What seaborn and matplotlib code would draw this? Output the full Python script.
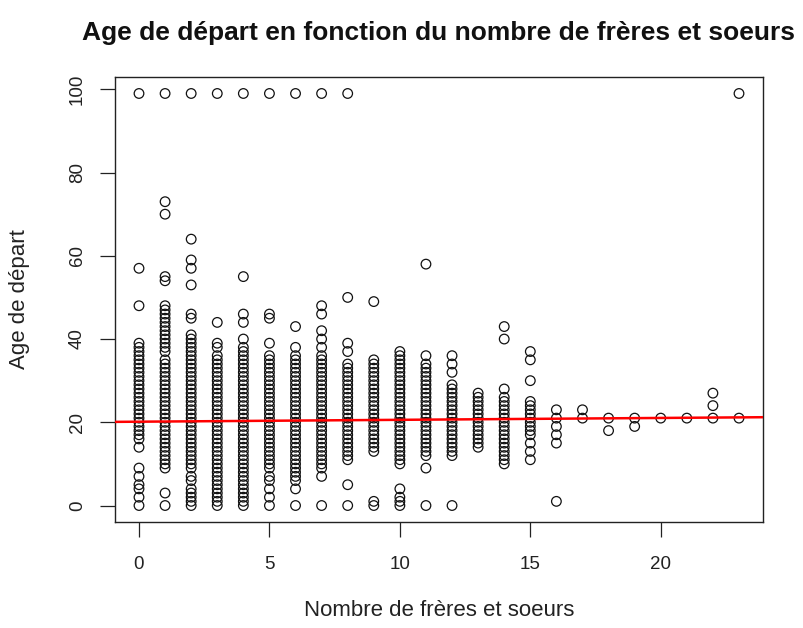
import matplotlib
matplotlib.use("Agg")
import matplotlib.pyplot as plt
import numpy as np
import pandas as pd
import seaborn as sns

# Age at departure observed for each number of brothers and sisters
age_0 = [0, 2, 4, 5, 7, 9, 14, 16, 17, 18, 19, 20, 21, 22, 23, 24, 25, 26, 27,
         28, 29, 30, 31, 32, 33, 34, 35, 36, 37, 38, 39, 48, 57, 99]
age_1 = [0, 3, 9, 10, 11, 12, 13, 14, 15, 16, 17, 18, 19, 20, 21, 22, 23, 24,
         25, 26, 27, 28, 29, 30, 31, 32, 33, 34, 35, 37, 38, 39, 40, 41, 42, 43,
         44, 45, 46, 47, 48, 54, 55, 70, 73, 99]
age_2 = [0, 1, 2, 3, 4, 6, 7, 9, 10, 11, 12, 13, 14, 15, 16, 17, 18, 19, 20, 21,
         22, 23, 24, 25, 26, 27, 28, 29, 30, 31, 32, 33, 34, 35, 36, 37, 38, 39,
         40, 41, 45, 46, 53, 57, 59, 64, 99]
age_3 = [0, 1, 2, 3, 4, 5, 6, 7, 8, 9, 10, 11, 12, 13, 14, 15, 16, 17, 18, 19,
         20, 21, 22, 23, 24, 25, 26, 27, 28, 29, 30, 31, 32, 33, 34, 35, 36, 38,
         39, 44, 99]
age_4 = [0, 1, 2, 3, 4, 5, 6, 7, 8, 9, 10, 11, 12, 13, 14, 15, 16, 17, 18, 19,
         20, 21, 22, 23, 24, 25, 26, 27, 28, 29, 30, 31, 32, 33, 34, 35, 36, 37,
         38, 40, 44, 46, 55, 99]
age_5 = [0, 2, 4, 6, 7, 9, 10, 11, 12, 13, 14, 15, 16, 17, 18, 19, 20, 21, 22,
         23, 24, 25, 26, 27, 28, 29, 30, 31, 32, 33, 34, 35, 36, 39, 45, 46, 99]
age_6 = [0, 4, 6, 7, 8, 9, 10, 11, 12, 13, 14, 15, 16, 17, 18, 19, 20, 21, 22,
         23, 24, 25, 26, 27, 28, 29, 30, 31, 32, 33, 34, 35, 36, 38, 43, 99]
age_7 = [0, 7, 9, 10, 11, 12, 13, 14, 15, 16, 17, 18, 19, 20, 21, 22, 23, 24,
         25, 26, 27, 28, 29, 30, 31, 32, 33, 34, 35, 36, 38, 40, 42, 46, 48, 99]
age_8 = [0, 5, 11, 12, 13, 14, 15, 16, 17, 18, 19, 20, 21, 22, 23, 24, 25, 26,
         27, 28, 29, 30, 31, 32, 33, 34, 37, 39, 50, 99]
age_9 = [0, 1, 13, 14, 15, 16, 17, 18, 19, 20, 21, 22, 23, 24, 25, 26, 27, 28,
         29, 30, 31, 32, 33, 34, 35, 49]
age_10 = [0, 1, 2, 4, 10, 11, 12, 13, 14, 15, 16, 17, 18, 19, 20, 21, 22, 23,
          24, 25, 26, 27, 28, 29, 30, 31, 32, 33, 34, 35, 36, 37]
age_11 = [0, 9, 12, 13, 14, 15, 16, 17, 18, 19, 20, 21, 22, 23, 24, 25, 26, 27,
          28, 29, 30, 31, 32, 33, 34, 36, 58]
age_12 = [0, 12, 13, 14, 15, 16, 17, 18, 19, 20, 21, 22, 23, 24, 25, 26, 27,
          28, 29, 32, 34, 36]
age_13 = [14, 15, 16, 17, 18, 19, 20, 21, 22, 23, 24, 25, 26, 27]
age_14 = [10, 11, 12, 13, 14, 15, 16, 17, 18, 19, 20, 21, 22, 23, 24, 25, 26,
          28, 40, 43]
age_15 = [11, 13, 15, 17, 18, 19, 20, 21, 22, 23, 24, 25, 30, 35, 37]
age_16 = [1, 15, 17, 19, 21, 23]
age_17 = [21, 23]
age_18 = [18, 21]
age_19 = [19, 21]
age_20 = [21]
age_21 = [21]
age_22 = [21, 24, 27]
age_23 = [21, 99]

ages_per_group = [age_0, age_1, age_2, age_3, age_4, age_5, age_6, age_7,
                  age_8, age_9, age_10, age_11, age_12, age_13, age_14, age_15,
                  age_16, age_17, age_18, age_19, age_20, age_21, age_22, age_23]

# Fitted linear trend (intercept, slope)
fit_intercept = 20.14
fit_slope = 0.045

x_ticks = [0, 5, 10, 15, 20]
y_ticks = [0, 20, 40, 60, 80, 100]

title = "Age de départ en fonction du nombre de frères et soeurs"
x_label = "Nombre de frères et soeurs"
y_label = "Age de départ"

df = pd.DataFrame({
    "freres": [n for n, ages in enumerate(ages_per_group) for _ in ages],
    "age": [a for ages in ages_per_group for a in ages],
})

sns.set_theme(style="white")
plt.rcParams["font.family"] = ["Liberation Sans", "DejaVu Sans"]

W, H = 804, 628
fig = plt.figure(figsize=(W / 100, H / 100), dpi=100)
fig.patch.set_facecolor("white")
ax_left, ax_right, ax_top, ax_bottom = 115, 763, 77, 522
ax = fig.add_axes([ax_left / W, 1 - ax_bottom / H,
                   (ax_right - ax_left) / W, (ax_bottom - ax_top) / H])

sns.scatterplot(data=df, x="freres", y="age", ax=ax, marker="o", s=48,
                facecolors="none", edgecolors="#111111", linewidth=0.9,
                zorder=2)
ax.axline((0, fit_intercept), slope=fit_slope, color="red", lw=1.8,
          zorder=3)

ax.set_xlim(-0.92, 23.92)
ax.set_ylim(-3.96, 102.96)
ax.set_xticks(x_ticks)
ax.set_yticks(y_ticks)
ax.set_xticklabels([str(t) for t in x_ticks])
ax.set_yticklabels([str(t) for t in y_ticks], rotation=90, va="center")

for side in ["left", "right", "top", "bottom"]:
    ax.spines[side].set_visible(True)
    ax.spines[side].set_color("#222222")
    ax.spines[side].set_linewidth(1.0)

ax.tick_params(axis="both", direction="out", length=10.8, width=0.9,
               colors="#222222", labelsize=13.5, left=True, bottom=True)
ax.tick_params(axis="x", pad=14)
ax.tick_params(axis="y", pad=10)

ax.set_xlabel(x_label, fontsize=16, color="#222222")
ax.xaxis.label.set_va("center")
ax.xaxis.set_label_coords(0.5, -(611 - ax_bottom) / (ax_bottom - ax_top))
ax.set_ylabel(y_label, fontsize=16, color="#222222")
ax.yaxis.label.set_va("center")
ax.yaxis.set_label_coords(-(ax_left - 20) / (ax_right - ax_left), 0.5)

fig.text((ax_left + ax_right) / 2 / W, 1 - 33 / H, title, fontsize=19,
         fontweight="bold", color="#111111", ha="center", va="center")

fig.savefig("out.png", dpi=100, facecolor="white")
